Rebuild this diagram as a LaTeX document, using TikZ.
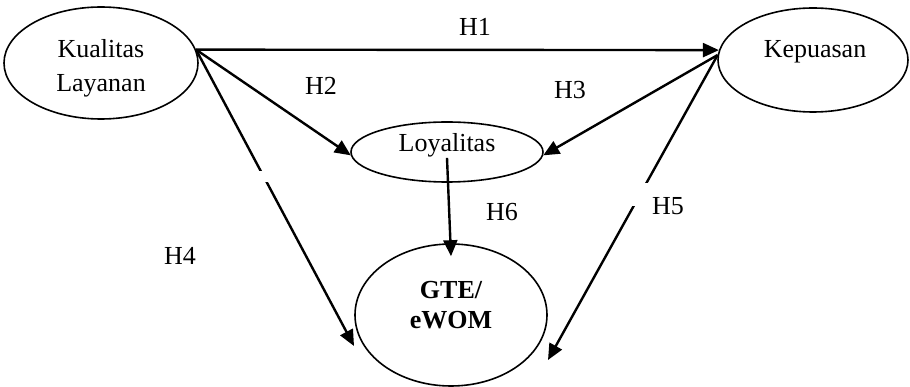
\documentclass[tikz,border=0pt]{standalone}
\usepackage{fontspec}
\setmainfont{Liberation Serif}
\usetikzlibrary{shapes.geometric,arrows.meta,calc}
\begin{document}
\begin{tikzpicture}[x=1pt,y=-1pt,
  oval/.style={draw, ellipse, line width=1.6pt, inner sep=0pt},
  txt/.style={inner sep=0pt, font=\fontsize{26}{34}\selectfont, align=center},
  lbl/.style={inner sep=0pt, font=\fontsize{26}{34}\selectfont, anchor=base},
  conn/.style={line width=2.4pt, -{Triangle[length=16pt,width=14pt]}}]
\useasboundingbox (0,0) rectangle (910,387);
% ellipses
\node[oval, minimum width=194pt, minimum height=112pt] (kl) at (101,63) {};
\node[txt] (kltext) at (101,68) {Kualitas\\Layanan};
\node[oval, minimum width=190pt, minimum height=104pt] (kp) at (813,60) {};
\node[lbl] (kptext) at (815,58) {Kepuasan};
\node[oval, minimum width=192pt, minimum height=60pt] (ly) at (447,152) {};
\node[lbl] (lytext) at (447,152) {Loyalitas};
\node[oval, minimum width=192pt, minimum height=142pt] (gte) at (451,315) {};
\node[txt, font=\bfseries\fontsize{26}{30}\selectfont] (gtetext) at (451,305) {GTE/\\eWOM};
% free ends
\coordinate (h4end) at (354,346);
\coordinate (h5end) at (548,360);
% connectors
\draw[conn] (kl.8) -- (kp.174);
\draw[conn] (kl.8) -- (ly.182);
\draw[conn] (kl.8) -- (h4end);
\draw[conn] (kp.177) -- (ly.358);
\draw[conn] (kp.177) -- (h5end);
\draw[conn] (lytext.south) -- ($(gte.north)+(0,13)$);
% gaps in lines
\fill[white] (258,171) rectangle (271,182);
\fill[white] (628,183) rectangle (656,206);
% labels
\node[lbl] (h1) at (475,36) {H1};
\node[lbl] (h2) at (321,95) {H2};
\node[lbl] (h3) at (570,99) {H3};
\node[lbl] (h4) at (180,265) {H4};
\node[lbl] (h5) at (668,215) {H5};
\node[lbl] (h6) at (502,221) {H6};
\end{tikzpicture}
\end{document}
